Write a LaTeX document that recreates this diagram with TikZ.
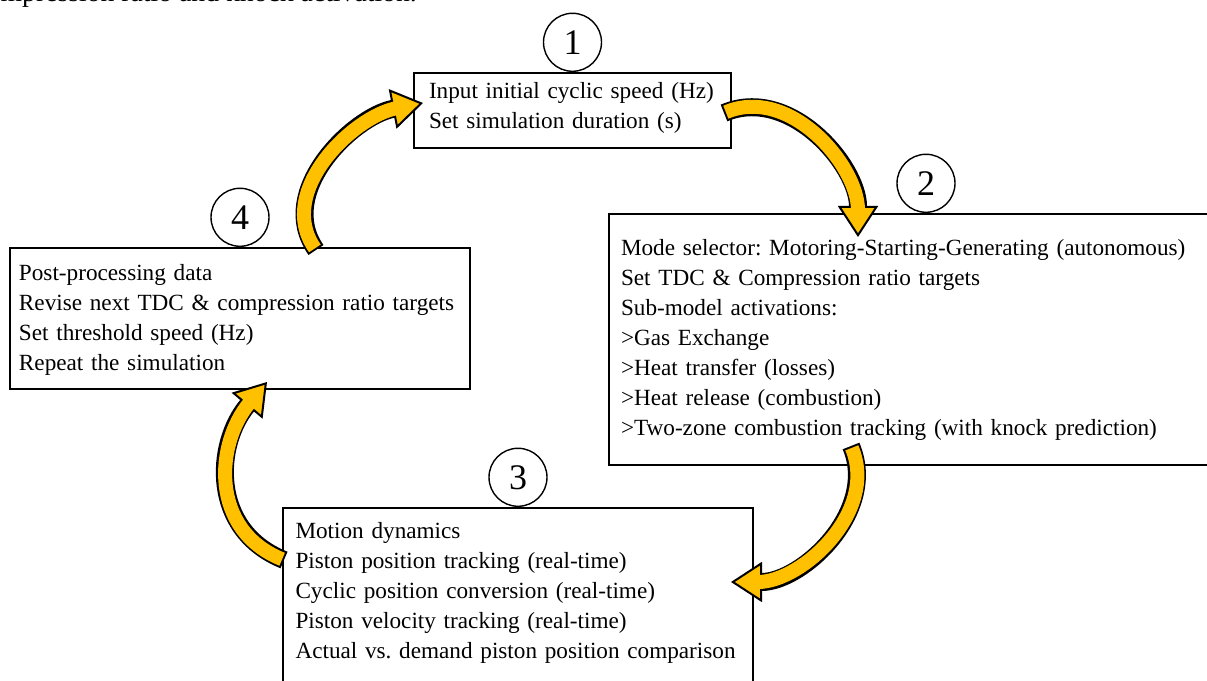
\documentclass[tikz,border=0pt]{standalone}
\usepackage{fontspec}
\setmainfont{Liberation Serif}
\frenchspacing
\usetikzlibrary{arrows.meta,positioning,calc}
\definecolor{loopgold}{HTML}{FFC000}
\newcommand{\steplines}[1]{\begin{tabular}[t]{@{}l@{}}#1\end{tabular}}
\tikzset{
  stagebox/.style={draw, line width=2pt, anchor=north west, inner ysep=0pt,
    font=\fontsize{23.2pt}{30pt}\selectfont},
  stagenum/.style={draw, circle, line width=1.4pt, minimum size=58pt, inner sep=0pt,
    fill=white, font=\fontsize{36pt}{36pt}\selectfont},
  loopback/.style={line width=18pt, black,
    -{Triangle[length=31pt, width=40pt, fill=loopgold, line width=2pt]}},
  loopfront/.style={line width=14pt, loopgold, shorten <=2pt, shorten >=27pt}
}
\begin{document}
\begin{tikzpicture}[x=1pt, y=1pt]
    \useasboundingbox (0,0) rectangle (1207,680);
    \clip (0,0) rectangle (1207,680);
    % stages of the loop
    \node[stagebox, text width=287pt, inner xsep=15pt, text height=26pt, text depth=49pt]
      (init) at (413,608) {\steplines{Input initial cyclic speed (Hz)\\Set simulation duration (s)}};
    \node[stagebox, text width=610pt, inner xsep=12pt, text height=42pt, text depth=209pt]
      (setup) at (608,467) {\steplines{Mode selector: Motoring-Starting-Generating (autonomous)\\
        Set TDC \& Compression ratio targets\\Sub-model activations:\\>Gas Exchange\\
        >Heat transfer (losses)\\>Heat release (combustion)\\
        >Two-zone combustion tracking (with knock prediction)}};
    \node[stagebox, text width=445pt, inner xsep=12.5pt, text height=31pt, text depth=190pt]
      (motion) at (282,173) {\steplines{Motion dynamics\\Piston position tracking (real-time)\\
        Cyclic position conversion (real-time)\\Piston velocity tracking (real-time)\\
        Actual vs. demand piston position comparison}};
    \node[stagebox, text width=442pt, inner xsep=9pt, text height=33pt, text depth=108pt]
      (post) at (9,433) {\steplines{Post-processing data\\Revise next TDC \& compression ratio targets\\
        Set threshold speed (Hz)\\Repeat the simulation}};
    % step numbers
    \node[stagenum, above=0pt of init] (num1) {1};
    \node[stagenum, anchor=south] (num2) at ([xshift=318pt]setup.north west) {2};
    \node[stagenum, above=0pt of motion] (num3) {3};
    \node[stagenum, above=0pt of post] (num4) {4};
    % ends of the curved arrows
    \coordinate (tail4) at ($(post.north west)+(307,-3)$);
    \coordinate (head1) at ($(init.north west)+(10,-31)$);
    \coordinate (tail1) at ($(init.north east)+(-8,-41)$);
    \coordinate (head2) at ($(setup.north west)+(250,-24)$);
    \coordinate (tail2) at ($(setup.south west)+(243,20)$);
    \coordinate (head3) at ($(motion.north east)+(-23,-75)$);
    \coordinate (tail3) at ($(motion.north west)+(2,-53)$);
    \coordinate (head4) at ($(post.south west)+(258,8)$);
    \foreach \from/\to/\o/\i/\l in {tail4/head1/125/191/1, tail1/head2/23/90/1,
        tail2/head3/-67/0/1, tail3/head4/158/230/1.15} {
      \draw[loopback] (\from) to[out=\o, in=\i, looseness=\l] (\to);
      \draw[loopfront] (\from) to[out=\o, in=\i, looseness=\l] (\to);
    }
    % caption line cut by the top edge
    \node[anchor=base east, inner sep=0pt, font=\fontsize{27.7pt}{30pt}\selectfont]
      (capfrag) at (417,678) {compression ratio and knock activation.};
\end{tikzpicture}
\end{document}
